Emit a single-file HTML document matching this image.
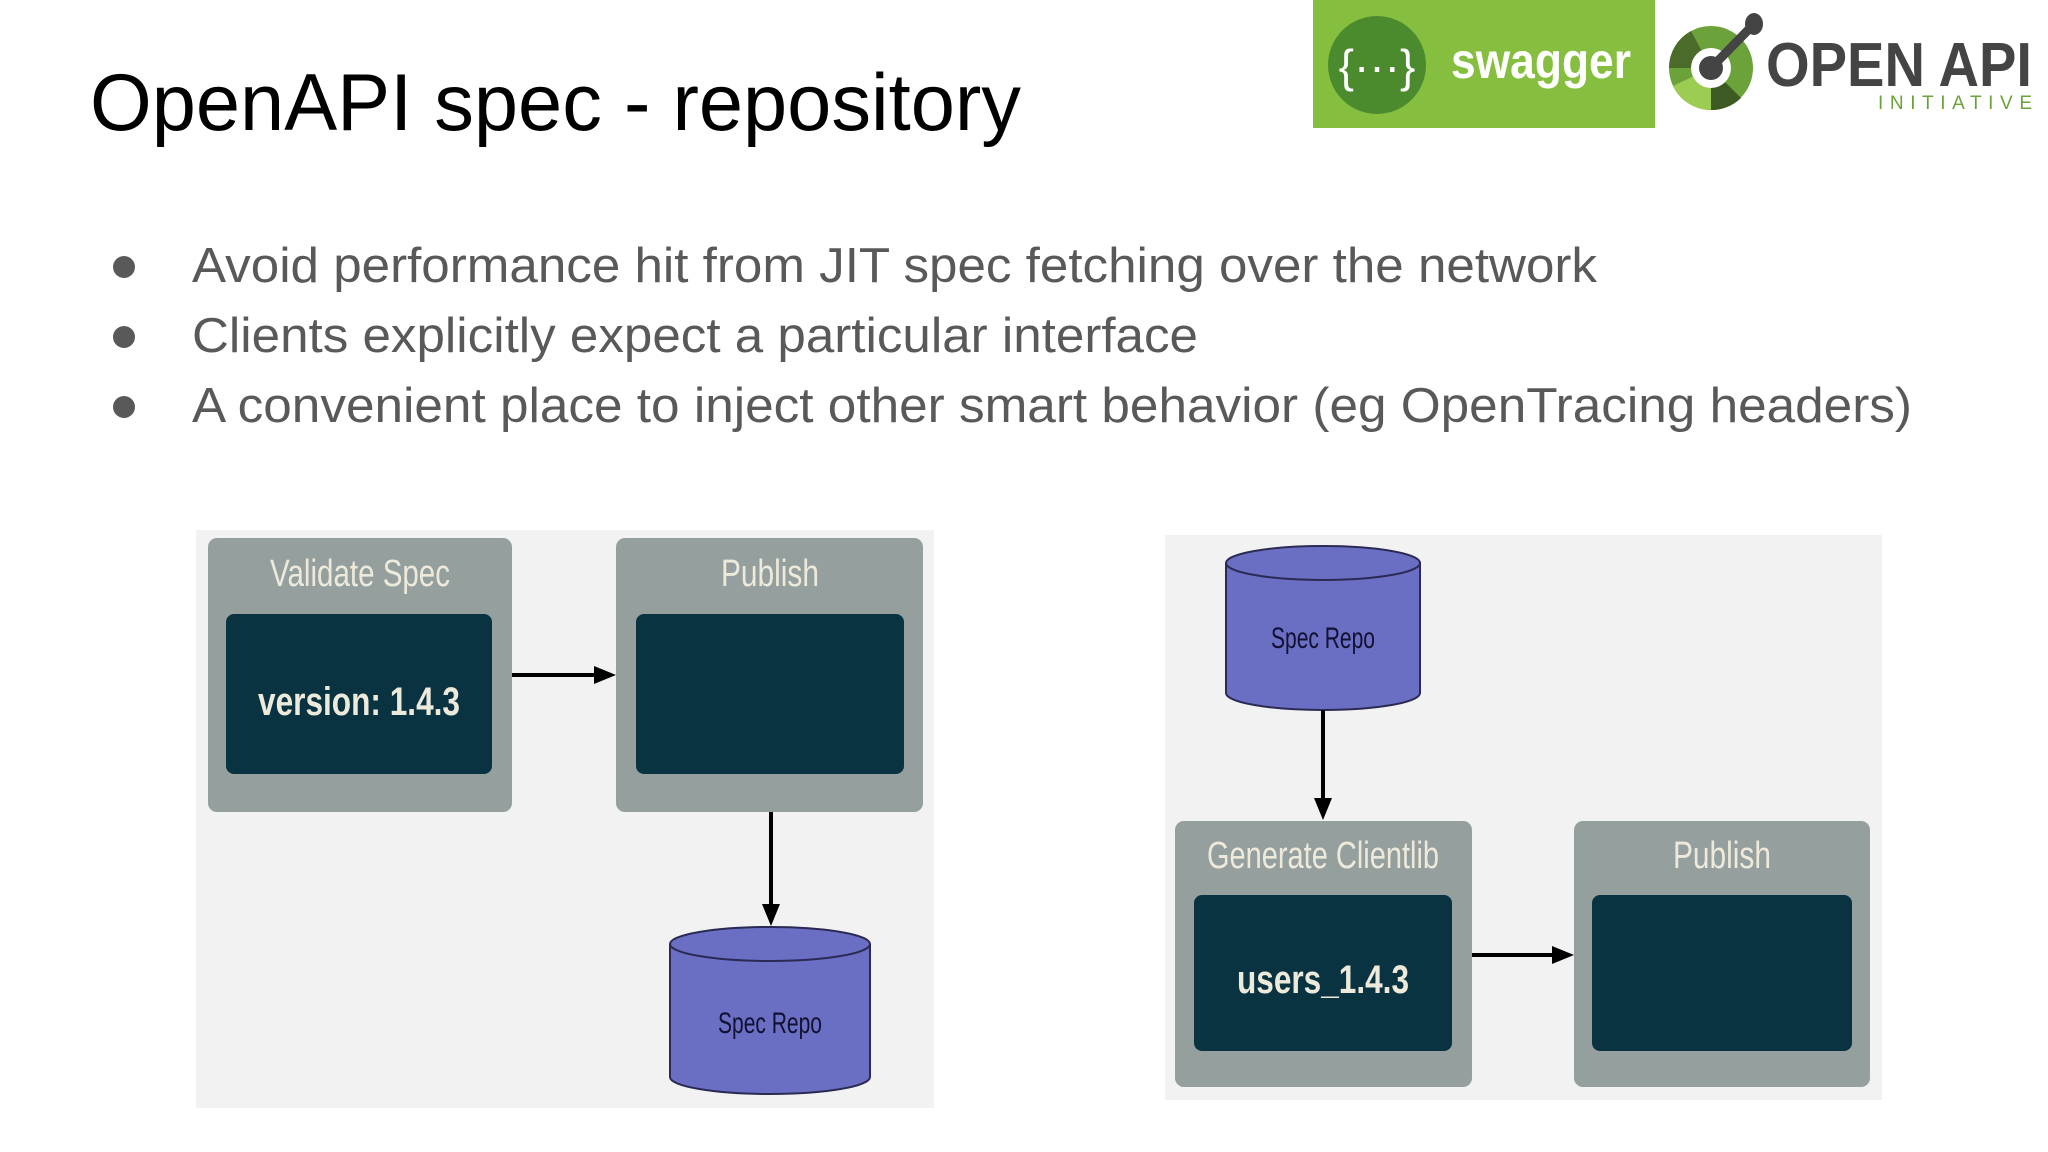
<!DOCTYPE html>
<html><head><meta charset="utf-8"><style>
html,body{margin:0;padding:0;background:#fff;}
svg{display:block;}
</style></head><body>
<svg width="2048" height="1152" viewBox="0 0 2048 1152" xmlns="http://www.w3.org/2000/svg">
<rect width="2048" height="1152" fill="#fff"/>
<text x="90" y="130" font-family="Liberation Sans, sans-serif" font-size="81" fill="#000" textLength="931" lengthAdjust="spacingAndGlyphs">OpenAPI spec - repository</text>

<g font-family="Liberation Sans, sans-serif" font-size="49" fill="#595959">
<circle cx="124" cy="267" r="11" fill="#595959"/>
<circle cx="124" cy="337" r="11" fill="#595959"/>
<circle cx="124" cy="407" r="11" fill="#595959"/>
<text x="192" y="282" textLength="1405" lengthAdjust="spacingAndGlyphs">Avoid performance hit from JIT spec fetching over the network</text>
<text x="192" y="352" textLength="1006" lengthAdjust="spacingAndGlyphs">Clients explicitly expect a particular interface</text>
<text x="192" y="422" textLength="1720" lengthAdjust="spacingAndGlyphs">A convenient place to inject other smart behavior (eg OpenTracing headers)</text>
</g>

<!-- swagger logo -->
<rect x="1313" y="0" width="342" height="128" fill="#86bf40"/>
<ellipse cx="1377" cy="65" rx="49" ry="49" fill="#4c8a2e"/>
<text x="1377" y="82" text-anchor="middle" font-family="Liberation Sans, sans-serif" font-size="46" fill="#fff">{···}</text>
<text x="1451" y="78" font-family="Liberation Sans, sans-serif" font-weight="bold" font-size="50" fill="#fff" textLength="180" lengthAdjust="spacingAndGlyphs">swagger</text>

<!-- openapi logo -->
<g transform="translate(1711,68)">
<circle r="42" fill="#6ba33a"/>
<path d="M0 0 L-42 0 A42 42 0 0 1 -20 -37Z" fill="#4a6b2a"/>
<path d="M0 0 L0 42 A42 42 0 0 1 -38 18Z" fill="#9ccc52"/>
<path d="M0 0 L30 30 A42 42 0 0 1 0 42Z" fill="#3d5a22"/>
<circle r="20" fill="#fff"/>
<line x1="0" y1="0" x2="42" y2="-43" stroke="#444" stroke-width="9"/>
<circle r="12" fill="#444"/>
<ellipse cx="43" cy="-44" rx="9" ry="11" fill="#444"/>
</g>
<text x="1766" y="86" font-family="Liberation Sans, sans-serif" font-weight="bold" font-size="62" fill="#444" textLength="266" lengthAdjust="spacingAndGlyphs">OPEN API</text>
<text x="1878" y="109" font-family="Liberation Sans, sans-serif" font-size="19" fill="#6ba33a" textLength="154" lengthAdjust="spacing">INITIATIVE</text>

<!-- left diagram -->
<rect x="196" y="530" width="738" height="578" fill="#f2f2f2"/>
<g font-family="Liberation Sans Narrow, Liberation Sans, sans-serif" font-weight="bold">
<rect x="208" y="538" width="304" height="274" rx="9" fill="#949f9e"/>
<rect x="226" y="614" width="266" height="160" rx="8" fill="#0a3342"/>
<text x="360" y="586" text-anchor="middle" font-size="38" font-weight="normal" fill="#eeeadb" textLength="180" lengthAdjust="spacingAndGlyphs">Validate Spec</text>
<text x="359" y="715" text-anchor="middle" font-size="40" fill="#eeeadb" textLength="202" lengthAdjust="spacingAndGlyphs">version: 1.4.3</text>

<rect x="616" y="538" width="307" height="274" rx="9" fill="#949f9e"/>
<rect x="636" y="614" width="268" height="160" rx="8" fill="#0a3342"/>
<text x="770" y="586" text-anchor="middle" font-size="38" font-weight="normal" fill="#eeeadb" textLength="98" lengthAdjust="spacingAndGlyphs">Publish</text>

<line x1="512" y1="675" x2="596" y2="675" stroke="#000" stroke-width="4"/>
<polygon points="616,675 594,666 594,684" fill="#000"/>
<line x1="771" y1="812" x2="771" y2="906" stroke="#000" stroke-width="4"/>
<polygon points="771,926 762,904 780,904" fill="#000"/>

<path d="M670 944 L670 1077 A100 17 0 0 0 870 1077 L870 944" fill="#6b6fc3" stroke="#2a2a55" stroke-width="2"/>
<ellipse cx="770" cy="944" rx="100" ry="17" fill="#6b6fc3" stroke="#2a2a55" stroke-width="2"/>
<text x="770" y="1033" text-anchor="middle" font-size="30" font-weight="normal" fill="#111133" textLength="104" lengthAdjust="spacingAndGlyphs">Spec Repo</text>

<!-- right diagram -->
<rect x="1165" y="535" width="717" height="565" fill="#f2f2f2"/>
<path d="M1226 563 L1226 693 A97 17 0 0 0 1420 693 L1420 563" fill="#6b6fc3" stroke="#2a2a55" stroke-width="2"/>
<ellipse cx="1323" cy="563" rx="97" ry="17" fill="#6b6fc3" stroke="#2a2a55" stroke-width="2"/>
<text x="1323" y="648" text-anchor="middle" font-size="30" font-weight="normal" fill="#111133" textLength="104" lengthAdjust="spacingAndGlyphs">Spec Repo</text>
<line x1="1323" y1="710" x2="1323" y2="800" stroke="#000" stroke-width="4"/>
<polygon points="1323,820 1314,798 1332,798" fill="#000"/>

<rect x="1175" y="821" width="297" height="266" rx="9" fill="#949f9e"/>
<rect x="1194" y="895" width="258" height="156" rx="8" fill="#0a3342"/>
<text x="1323" y="868" text-anchor="middle" font-size="38" font-weight="normal" fill="#eeeadb" textLength="232" lengthAdjust="spacingAndGlyphs">Generate Clientlib</text>
<text x="1323" y="993" text-anchor="middle" font-size="40" fill="#eeeadb" textLength="172" lengthAdjust="spacingAndGlyphs">users_1.4.3</text>

<rect x="1574" y="821" width="296" height="266" rx="9" fill="#949f9e"/>
<rect x="1592" y="895" width="260" height="156" rx="8" fill="#0a3342"/>
<text x="1722" y="868" text-anchor="middle" font-size="38" font-weight="normal" fill="#eeeadb" textLength="98" lengthAdjust="spacingAndGlyphs">Publish</text>

<line x1="1472" y1="955" x2="1554" y2="955" stroke="#000" stroke-width="4"/>
<polygon points="1574,955 1552,946 1552,964" fill="#000"/>
</g>
</svg>
</body></html>
